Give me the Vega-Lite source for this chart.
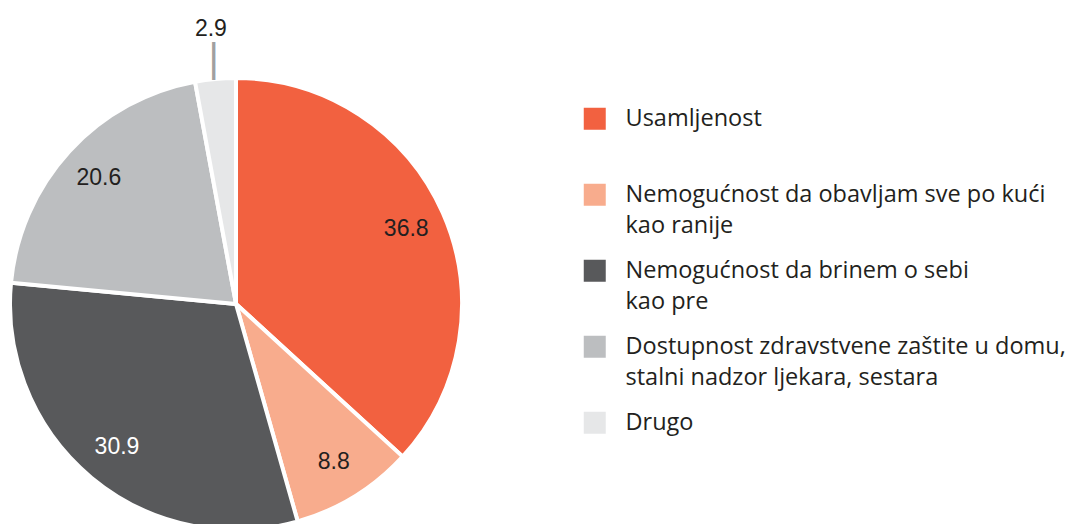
{
  "$schema": "https://vega.github.io/schema/vega-lite/v6.json",
  "width": 472,
  "height": 440,
  "autosize": {"type": "none"},
  "padding": {"left": 0, "top": 84, "right": 603, "bottom": 0},
  "background": "white",
  "config": {"view": {"stroke": null}, "style": {"guide-label": {"lineHeight": 31}}},
  "data": {"values": [
    {"cat": "Usamljenost", "value": 36.8, "order": 1},
    {"cat": "Nemogućnost da obavljam sve po kući kao ranije", "value": 8.8, "order": 2},
    {"cat": "Nemogućnost da brinem o sebi kao pre", "value": 30.9, "order": 3},
    {"cat": "Dostupnost zdravstvene zaštite u domu, stalni nadzor ljekara, sestara", "value": 20.6, "order": 4},
    {"cat": "Drugo", "value": 2.9, "order": 5}
  ]},
  "encoding": {
    "theta": {"field": "value", "type": "quantitative", "stack": true},
    "order": {"field": "order", "type": "quantitative"}
  },
  "layer": [
    {
      "mark": {"type": "arc", "outerRadius": 226, "stroke": "white", "strokeWidth": 4},
      "encoding": {
        "color": {
          "field": "cat",
          "type": "nominal",
          "scale": {
            "domain": ["Usamljenost", "Nemogućnost da obavljam sve po kući kao ranije", "Nemogućnost da brinem o sebi kao pre", "Dostupnost zdravstvene zaštite u domu, stalni nadzor ljekara, sestara", "Drugo"],
            "range": ["#F26140", "#F8AC8D", "#58595B", "#BCBEC0", "#E6E7E8"]
          },
          "legend": {
            "orient": "none",
            "legendX": 583,
            "legendY": 23,
            "title": null,
            "symbolType": "square",
            "symbolSize": 484,
            "symbolStrokeWidth": 0,
            "labelFont": "Open Sans",
            "labelFontSize": 23.5,
            "labelColor": "#231F20",
            "labelOffset": 19,
            "labelLimit": 600,
            "rowPadding": 20,
            "encode": {"labels": {"update": {"lineHeight": {"value": 31}}}},
            "labelExpr": "datum.label === 'Nemogućnost da obavljam sve po kući kao ranije' ? ['Nemogućnost da obavljam sve po kući', 'kao ranije'] : datum.label === 'Nemogućnost da brinem o sebi kao pre' ? ['Nemogućnost da brinem o sebi', 'kao pre'] : datum.label === 'Dostupnost zdravstvene zaštite u domu, stalni nadzor ljekara, sestara' ? ['Dostupnost zdravstvene zaštite u domu,', 'stalni nadzor ljekara, sestara'] : [datum.label, ' ']"
          }
        }
      }
    },
    {
      "mark": {"type": "text", "font": "Liberation Sans", "fontSize": 23},
      "encoding": {
        "text": {"field": "value", "type": "quantitative", "format": ".1f", "condition": {"test": "datum.cat === 'Drugo'", "value": ""}},
        "radius": {"condition": {"test": "datum.order === 1", "value": 161}, "value": 186},
        "color": {"condition": {"test": "datum.order === 3", "value": "white"}, "value": "#231F20"}
      }
    },
    {
      "mark": {"type": "text", "font": "Liberation Sans", "fontSize": 23, "color": "#231F20", "radius": 276},
      "encoding": {
        "text": {"field": "value", "type": "quantitative", "format": ".1f", "condition": {"test": "datum.cat !== 'Drugo'", "value": ""}}
      }
    },
    {
      "mark": {"type": "text", "font": "Liberation Sans", "fontSize": 40, "color": "#a0a0a0", "radius": 245},
      "encoding": {
        "text": {"condition": {"test": "datum.cat === 'Drugo'", "value": "|"}, "value": ""}
      }
    }
  ]
}
